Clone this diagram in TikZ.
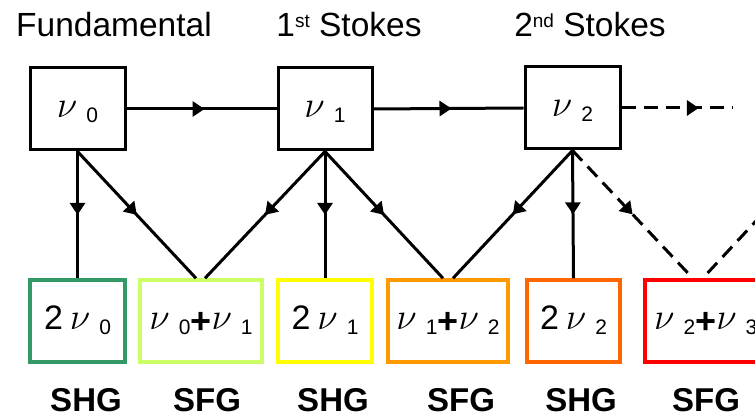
\documentclass[tikz,border=0pt]{standalone}
\usepackage{fontspec}
\setmainfont{Liberation Sans}
\usetikzlibrary{decorations.markings,arrows.meta}
\newcommand{\nuu}{{\fontsize{24.88}{25}\selectfont\scalebox{1.5}{$\nu$}}}
\newcommand{\nsub}[1]{\nuu\hspace{9pt}\raisebox{-5pt}{\fontsize{21}{21}\selectfont #1}}
\newcommand{\pplus}{{\fontsize{36}{36}\selectfont\bfseries\raisebox{-4pt}{+}}}
\begin{document}
\begin{tikzpicture}[x=1pt,y=-1pt,
  boxtext/.style={inner sep=0pt, text height=24pt, text depth=6pt, font=\fontsize{34}{34}\selectfont},
  topbox/.style={boxtext, draw=black, line width=3pt, minimum width=95pt, minimum height=82pt},
  botbox/.style={boxtext, draw=#1, line width=3.5pt, fill=white, minimum height=82pt},
  conn/.style={line width=3pt},
  midarrow/.style={postaction={decorate}, decoration={markings, mark=at position #1 with {\arrow{Triangle[length=12pt,width=15pt]}}}},
  dashline/.style={dash pattern=on 14pt off 8pt},
  hdr/.style={font=\fontsize{33.5}{34}\selectfont, anchor=base, inner sep=0pt},
  lbl/.style={font=\fontsize{33}{33}\selectfont\bfseries, anchor=base, inner sep=0pt}]
\definecolor{cg0}{RGB}{51,153,102}
\definecolor{cs01}{RGB}{204,255,102}
\definecolor{cg1}{RGB}{255,255,0}
\definecolor{cs12}{RGB}{255,153,0}
\definecolor{cg2}{RGB}{255,102,0}
\definecolor{cs23}{RGB}{255,0,0}
\useasboundingbox (0,0) rectangle (755,419);
\clip (0,0) rectangle (755,419);
\fill[white] (0,0) rectangle (755,419);

% headers
\node[hdr] (hf) at (114,37) {Fundamental};
\node[hdr] (h1) at (349,37) {1\raisebox{9pt}{\fontsize{19}{19}\selectfont st} Stokes};
\node[hdr] (h2) at (590,37) {2\raisebox{9pt}{\fontsize{19}{19}\selectfont nd} Stokes};

% top boxes
\node[topbox] (n0) at (77.5,109) {\nsub{0}};
\node[topbox, minimum width=94pt] (n1) at (325,109) {\nsub{1}};
\node[topbox] (n2) at (572.5,108) {\nsub{2}};
\coordinate (e1) at (732,108);
\coordinate (n3b) at (822,150);

% bottom boxes
\node[botbox=cg0, minimum width=95pt] (g0) at (77.5,321) {2\hspace{7pt}\nsub{0}};
\node[botbox=cs01, minimum width=122pt] (s01) at (201,321) {\nsub{0}\pplus\nsub{1}};
\node[botbox=cg1, minimum width=94pt] (g1) at (325,321) {2\hspace{7pt}\nsub{1}};
\node[botbox=cs12, minimum width=120pt] (s12) at (448,321) {\nsub{1}\pplus\nsub{2}};
\node[botbox=cg2, minimum width=93pt] (g2) at (573.5,321) {2\hspace{7pt}\nsub{2}};
\node[botbox=cs23, minimum width=122pt, anchor=west] (s23) at (643,321) {\nsub{2}\pplus\nsub{3}};

% connectors
\draw[conn, midarrow=0.52] (n0.east) -- (n1.west);
\draw[conn, midarrow=0.52] (n1.east) -- (n2.west);
\draw[conn, dashline, midarrow=0.7] (n2.east) -- (e1);

\draw[conn, midarrow=0.5] (n0.south) -- (g0.north);
\draw[conn, midarrow=0.5] (n0.south) -- ([xshift=-5pt]s01.north);
\draw[conn, midarrow=0.5] (n1.south) -- ([xshift=4pt]s01.north);
\draw[conn, midarrow=0.5] (n1.south) -- (g1.north);
\draw[conn, midarrow=0.5] (n1.south) -- ([xshift=-5pt]s12.north);
\draw[conn, midarrow=0.5] (n2.south) -- ([xshift=5pt]s12.north);
\draw[conn, midarrow=0.5] (n2.south) -- (g2.north);
\draw[conn, dashline, midarrow=0.5] (n2.south) -- ([xshift=-13pt]s23.north);
\draw[conn, dashline] (n3b) -- ([xshift=-3pt]s23.north);

% process labels
\node[lbl] (l1) at (86,412) {SHG};
\node[lbl] (l2) at (207,412) {SFG};
\node[lbl] (l3) at (333,412) {SHG};
\node[lbl] (l4) at (461,412) {SFG};
\node[lbl] (l5) at (581,412) {SHG};
\node[lbl] (l6) at (706,412) {SFG};
\end{tikzpicture}
\end{document}
